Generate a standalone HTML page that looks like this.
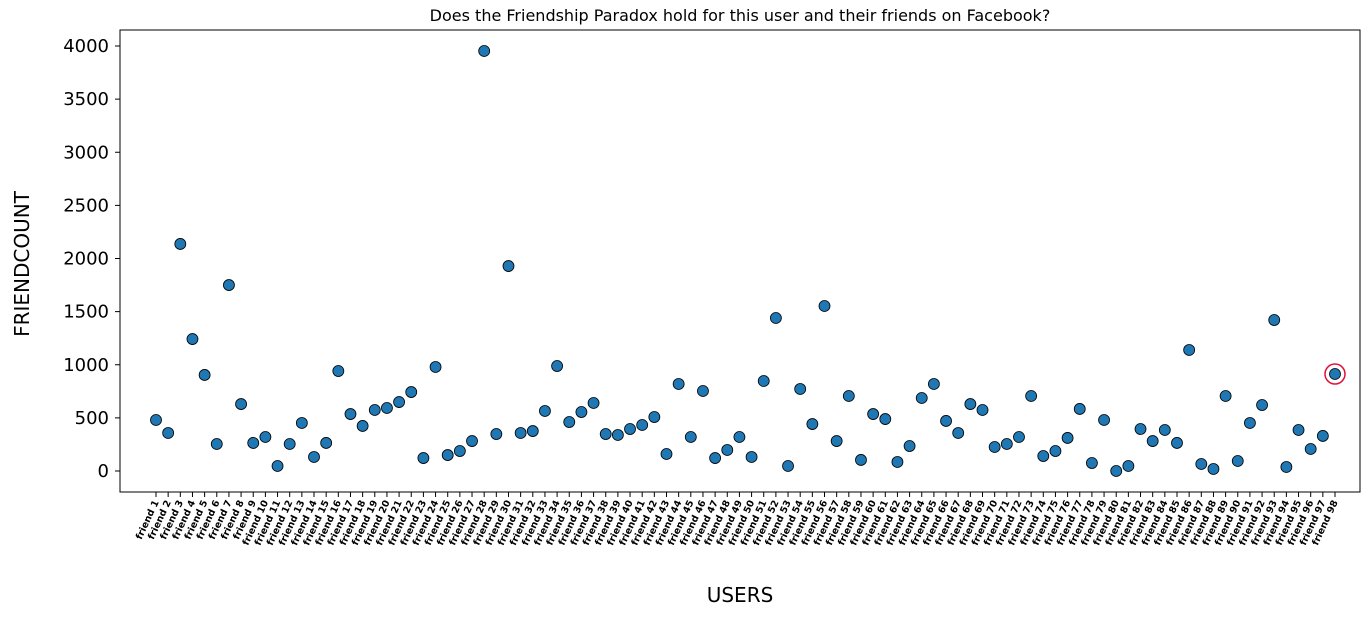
<!DOCTYPE html>
<html><head><meta charset="utf-8"><style>
body{margin:0;background:#fff;font-family:"DejaVu Sans","Liberation Sans",sans-serif}
</style></head><body>
<svg id="chart" width="1370" height="617" xmlns="http://www.w3.org/2000/svg" font-family="DejaVu Sans, Liberation Sans, sans-serif">
<text x="740" y="21" text-anchor="middle" font-size="16">Does the Friendship Paradox hold for this user and their friends on Facebook?</text>
<rect x="120" y="30" width="1240" height="462" fill="none" stroke="#000" stroke-width="1"/>
<text x="29" y="264" transform="rotate(-90 29 264)" text-anchor="middle" font-size="20">FRIENDCOUNT</text>
<text x="740" y="602" text-anchor="middle" font-size="20">USERS</text>
<g id="yax"></g><g id="xax"></g><g id="pts"></g>
</svg>
<script>
const yTicks=[0,500,1000,1500,2000,2500,3000,3500,4000];
const friendCounts=[480,358,2137,1242,904,254,1750,630,264,320,47,254,452,132,264,941,536,424,574,593,649,743,122,979,150,188,282,3953,348,1929,358,376,565,988,461,555,640,348,339,395,433,508,160,819,320,753,122,198,320,132,847,1440,47,772,442,1553,282,706,104,536,489,85,235,687,819,471,358,630,574,226,254,320,706,141,188,311,584,75,480,0,47,395,282,386,264,1139,66,19,706,94,452,621,1421,38,386,207,330,913];
const userLabels=friendCounts.map((_,i)=>'friend '+(i+1));
const NS='http://www.w3.org/2000/svg';
const y=v=>471-v*(425/4000);
const x=i=>156+i*(1179/(friendCounts.length-1));
const yax=document.getElementById('yax'),xax=document.getElementById('xax'),pts=document.getElementById('pts');
function mk(t,a){const e=document.createElementNS(NS,t);for(const k in a)e.setAttribute(k,a[k]);return e;}
yTicks.forEach(t=>{
 const l=mk('line',{x1:115,x2:120,y1:y(t),y2:y(t),stroke:'#000'});
 
 
 yax.appendChild(l);
 const tx=mk('text',{x:109,y:y(t)+6,'text-anchor':'end','font-size':18});
 
 
 tx.textContent=t;yax.appendChild(tx);
});
userLabels.forEach((s,i)=>{
 const l=mk('line',{x1:x(i),x2:x(i),y1:492,y2:497,stroke:'#000'});
 
 
 xax.appendChild(l);
 const tx=mk('text',{x:x(i)+3,y:502,'text-anchor':'end','font-size':9.5,'font-weight':'bold',transform:`rotate(-65 ${x(i)+3} 502)`});
 
 
 tx.textContent=s;xax.appendChild(tx);
});
friendCounts.forEach((v,i)=>{
 const c=mk('circle',{cx:x(i),cy:y(v),r:5.5,fill:'#1f77b4',stroke:'#000','stroke-width':0.8});
 
 
 pts.appendChild(c);
});
const li=friendCounts.length-1;
const ring=mk('circle',{cx:x(li),cy:y(friendCounts[li]),r:10,fill:'none',stroke:'#e0103a','stroke-width':1.5});


pts.appendChild(ring);
</script>
</body></html>
